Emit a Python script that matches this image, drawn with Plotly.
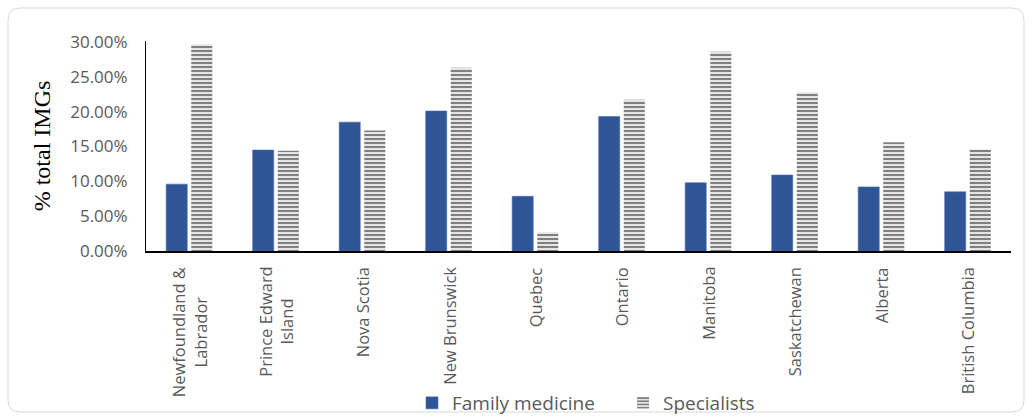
import plotly.graph_objects as go

provinces = ["Newfoundland &<br>Labrador", "Prince Edward<br>Island", "Nova Scotia", "New Brunswick",
             "Quebec", "Ontario", "Manitoba", "Saskatchewan", "Alberta", "British Columbia"]
family_medicine = [9.6, 14.5, 18.5, 20.1, 7.85, 19.3, 9.8, 10.9, 9.2, 8.5]
specialists = [29.7, 14.4, 17.3, 26.3, 2.7, 21.7, 28.6, 22.8, 15.6, 14.6]
y_ticks = [0, 5, 10, 15, 20, 25, 30]
y_tick_labels = [f"{v:.2f}%" for v in y_ticks]

W, H = 1032, 420
L, R, T, B = 146, 21, 41, 169
pw, ph = W - L - R, H - T - B

def px(x):
    return (x - L) / pw

def py(y):
    return (H - B - y) / ph

fig = go.Figure()
fig.add_trace(go.Bar(
    x=provinces, y=family_medicine, name="Family medicine",
    marker=dict(color="#2f5597", line=dict(color="#4a6fae", width=0.6)),
))
fig.add_trace(go.Bar(
    x=provinces, y=specialists, name="Specialists",
    marker=dict(color="white", line=dict(width=0),
                pattern=dict(shape="-", fgcolor="black", bgcolor="white", size=4, solidity=0.6)),
))

# category labels (centre-aligned multi-line, rotated)
for p in provinces:
    fig.add_annotation(x=p, xref="x", y=py(265), yref="paper", text=p, showarrow=False,
                       textangle=-90, xanchor="center", yanchor="top", align="center",
                       font=dict(family="Open Sans", size=16.5, color="#595959"))

# rounded border
x0, x1, y0, y1, r = 8, 1024, 8, 412, 12
path = (f"M {px(x0+r)},{py(y0)} L {px(x1-r)},{py(y0)} Q {px(x1)},{py(y0)} {px(x1)},{py(y0+r)} "
        f"L {px(x1)},{py(y1-r)} Q {px(x1)},{py(y1)} {px(x1-r)},{py(y1)} "
        f"L {px(x0+r)},{py(y1)} Q {px(x0)},{py(y1)} {px(x0)},{py(y1-r)} "
        f"L {px(x0)},{py(y0+r)} Q {px(x0)},{py(y0)} {px(x0+r)},{py(y0)} Z")
fig.add_shape(type="path", path=path, xref="paper", yref="paper",
              line=dict(color="#d9d9d9", width=1), fillcolor="rgba(0,0,0,0)", layer="below")

fig.update_layout(
    width=W, height=H,
    margin=dict(l=L, r=R, t=T, b=B, autoexpand=False),
    paper_bgcolor="white", plot_bgcolor="white",
    barmode="group", bargap=0.42, bargroupgap=0.16,
    showlegend=True,
    legend=dict(orientation="h", x=px(412), xanchor="left", y=py(403), yanchor="middle",
                bgcolor="rgba(0,0,0,0)",
                font=dict(family="Open Sans", size=19, color="#595959"),
                itemwidth=30, tracegroupgap=0, entrywidthmode="pixels", entrywidth=166),
    xaxis=dict(showline=True, linecolor="black", linewidth=2, ticks="", showticklabels=False,
               automargin=False, showgrid=False, zeroline=False),
    yaxis=dict(range=[0, 30.15], tickvals=y_ticks, ticktext=y_tick_labels, showline=True,
               linecolor="black", linewidth=1, ticks="", showgrid=False, zeroline=False,
               ticklabelstandoff=14, automargin=False,
               tickfont=dict(family="Open Sans", size=17, color="#595959"),
               title=dict(text="% total IMGs", font=dict(family="Liberation Serif", size=24, color="black"),
                          standoff=12)),
)

fig.write_html("out.html")
